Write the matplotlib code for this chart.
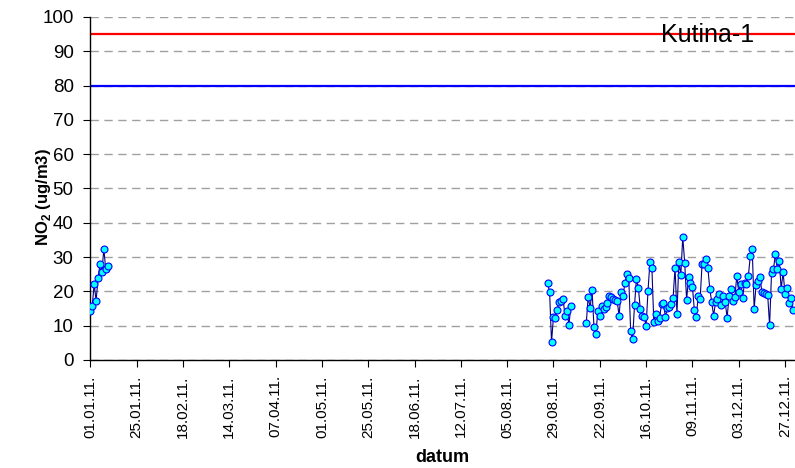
import matplotlib
matplotlib.use("Agg")
import matplotlib.pyplot as plt
import numpy as np
import pandas as pd

plt.rcParams['font.family'] = ['Liberation Sans', 'DejaVu Sans']
plt.rcParams['mathtext.fontset'] = 'custom'
plt.rcParams['mathtext.rm'] = 'Liberation Sans'
plt.rcParams['mathtext.bf'] = 'Liberation Sans:bold'

# daily NO2 values
jan_start = "2011-01-01"
jan_values = [14.4, 15.7, 22.2, 17.2, 23.8, 27.9, 25.6, 32.4, 26.4, 27.3]

aug_start = "2011-08-26"
aug_values = [22.5, 19.7, 5.2, 12.6, 12.3, 14.6, 17.0, 17.2, 17.8, 12.8,
              14.4, 10.1, 15.7]

sep_start = "2011-09-15"
sep_values = [10.7, 18.5, 15.1, 20.3, 9.6, 7.6, 14.4, 12.9, 15.7, 14.8,
              15.4, 16.7, 18.8, 18.3, 17.9, 17.5, 17.3, 12.9, 19.7, 18.6,
              22.3, 25.1, 24.0, 8.5, 6.0, 16.0, 23.5, 21.1, 14.8, 12.9,
              12.6, 9.9, 20.2, 28.7, 26.9, 11.2, 13.4, 11.5, 12.2, 16.3,
              16.5, 12.6, 15.1, 15.4, 16.3, 18.2, 26.9, 13.4, 28.7, 24.8,
              35.9, 28.4, 17.5, 24.1, 22.3, 21.4, 14.6, 12.6, 18.6, 17.7,
              27.9, 27.9, 29.4, 26.9, 20.8, 16.8, 12.9, 17.0, 17.8, 19.2,
              15.9, 18.8, 16.9, 12.3, 18.8, 20.7, 17.3, 18.3, 24.5, 19.9,
              22.2, 18.0, 22.5, 22.2, 24.6, 30.3, 32.3, 14.9, 21.9, 22.9,
              24.1, 19.9, 19.6, 19.2, 19.0, 10.1, 25.3, 26.4, 30.9, 26.4,
              28.9, 20.7, 25.6, 19.2, 21.0, 16.5, 18.0, 14.6]

limit_red = 95
limit_blue = 80
station = "Kutina-1"

days = pd.date_range("2011-01-01", "2011-12-31", freq="D")
no2 = pd.Series(np.nan, index=days)
for start, vals in [(jan_start, jan_values), (aug_start, aug_values), (sep_start, sep_values)]:
    idx = pd.date_range(start, periods=len(vals), freq="D")
    no2[idx] = vals

fig = plt.figure(figsize=(7.95, 4.68), dpi=100)
ax = fig.add_axes([0.1136, 0.2308, 0.886, 0.7329])

ax.grid(axis='y', color='#a0a0a0', linestyle=(0, (6, 4)), linewidth=1.0)
ax.set_axisbelow(True)

ax.axhline(limit_red, color='#ff0000', linewidth=1.6, zorder=2)
ax.axhline(limit_blue, color='#0000ff', linewidth=1.6, zorder=2)

ax.plot(no2.index, no2.values, color='#000080', linewidth=0.8,
        marker='o', markersize=5, markerfacecolor='#00ffff',
        markeredgecolor='#0000ff', markeredgewidth=0.8, zorder=3)

ax.set_xlim(pd.Timestamp("2011-01-01"), pd.Timestamp("2012-01-01"))
ax.set_ylim(0, 100)
ax.set_yticks(np.arange(0, 101, 10))

ticks = pd.date_range("2011-01-01", periods=16, freq="24D")
ax.set_xticks(ticks)
ax.set_xticklabels([t.strftime("%d.%m.%y.") for t in ticks], rotation=90, fontsize=11)
ax.tick_params(axis='x', length=5, pad=6, direction='out')
ax.tick_params(axis='y', labelsize=13.5, length=5, pad=7, direction='out')

for s in ['top', 'right']:
    ax.spines[s].set_visible(False)
for s in ['left', 'bottom']:
    ax.spines[s].set_linewidth(1.0)
    ax.spines[s].set_color('black')

ax.set_ylabel(r"NO$_\mathbf{2}$ (ug/m3)", fontsize=12, fontweight='bold')
ax.yaxis.set_label_coords(-0.053, 0.475)
ax.set_xlabel("datum", fontsize=13, fontweight='bold', labelpad=8)

ax.text(pd.Timestamp("2011-11-17"), 94.7, station, fontsize=18,
        ha='center', va='center', zorder=4)

fig.savefig("out.png", dpi=100)
